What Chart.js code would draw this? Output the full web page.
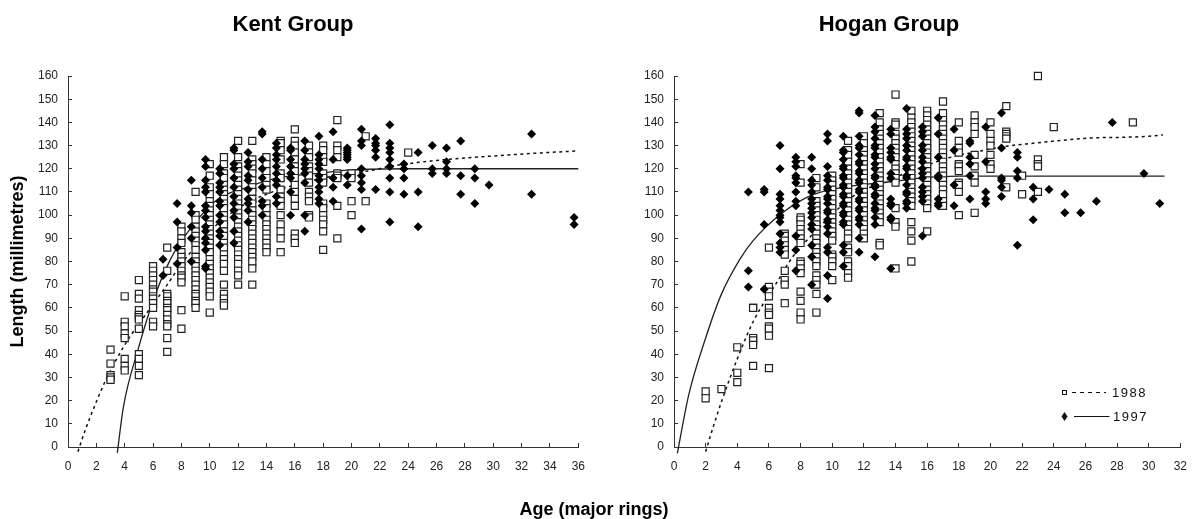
<!DOCTYPE html>
<html>
<head>
<meta charset="utf-8">
<title>Kent Group / Hogan Group</title>
<script src="https://cdn.jsdelivr.net/npm/chart.js@4/dist/chart.umd.min.js"></script>
<style>
  body { margin: 0; background: #fff; font-family: "Liberation Sans", Arial, sans-serif; color: #000; }
  #page { position: relative; width: 1197px; height: 519px; overflow: hidden; }
  canvas { position: absolute; top: 0; }
  #graficoKent { left: 0; }
  #graficoHogan { left: 600px; }
  .titulo { position: absolute; font-weight: bold; white-space: nowrap; transform: translateX(-50%); }
  #tituloKent { left: 293px; top: 11px; font-size: 22px; }
  #tituloHogan { left: 889px; top: 11px; font-size: 22px; }
  #tituloEdad { left: 594px; top: 499px; font-size: 18px; line-height: 21px; }
</style>
</head>
<body>
<div id="page">
  <canvas id="graficoKent" width="601" height="519"></canvas>
  <canvas id="graficoHogan" width="603" height="519"></canvas>
  <div class="titulo" id="tituloKent">Kent Group</div>
  <div class="titulo" id="tituloHogan">Hogan Group</div>
  <div class="titulo" id="tituloEdad">Age (major rings)</div>
</div>
<script>
// Kent Group, 1988 (squares) - one list of lengths per age
const kent1988Ages = [3, 4, 5, 6, 7, 8, 9, 10, 11, 12, 13, 14, 15, 16, 17, 18, 19, 20, 21, 24];
const kent1988Lengths = [
  [42, 36, 31, 30, 29],
  [65, 54, 52, 49, 47, 38, 35, 33],
  [72, 66, 64, 59, 57, 56, 55, 51, 40, 38, 35, 31],
  [78, 76, 74, 72, 70, 68, 67, 65, 64, 62, 60, 54, 52],
  [86, 76, 66, 65, 63, 62, 60, 59, 57, 55, 53, 52, 47, 41],
  [95, 93, 90, 88, 84, 82, 80, 78, 76, 74, 73, 71, 59, 51],
  [110, 100, 98, 95, 93, 91, 89, 87, 85, 82, 80, 78, 76, 74, 72, 70, 68, 66, 65, 63, 62, 60],
  [122, 117, 112, 109, 106, 104, 102, 100, 98, 96, 94, 92, 90, 88, 86, 84, 81, 79, 77, 75, 73, 71, 69, 67, 65, 58],
  [125, 122, 118, 116, 113, 111, 109, 107, 105, 103, 100, 98, 96, 93, 91, 88, 86, 83, 81, 79, 76, 70, 66, 64, 62, 61],
  [132, 125, 121, 119, 117, 115, 113, 111, 109, 107, 105, 103, 101, 99, 97, 95, 93, 91, 89, 87, 85, 83, 81, 79, 76, 74, 70],
  [132, 124, 122, 120, 118, 115, 112, 110, 107, 105, 102, 100, 98, 96, 94, 92, 90, 88, 86, 84, 82, 80, 77, 70],
  [125, 122, 119, 116, 113, 111, 105, 103, 100, 98, 96, 94, 92, 90, 88, 86, 84],
  [132, 131, 128, 124, 118, 116, 111, 108, 106, 104, 100, 96, 93, 90, 84],
  [137, 132, 130, 127, 124, 121, 119, 116, 113, 110, 107, 104, 92, 90, 88],
  [130, 127, 125, 121, 119, 117, 114, 110, 108, 106, 100, 99],
  [130, 128, 125, 123, 118, 116, 114, 105, 103, 100, 98, 96, 93, 85],
  [141, 130, 128, 125, 118, 117, 116, 104, 90],
  [118, 116, 106, 100],
  [134, 106],
  [127]
];

// Kent Group, 1997 (diamonds)
const kent1997Ages = [6.7, 7.7, 8.7, 9.7, 10.7, 11.7, 12.7, 13.7, 14.7, 15.7, 16.7, 17.7, 18.7, 19.7, 20.7, 21.7, 22.7, 23.7, 24.7, 25.7, 26.7, 27.7, 28.7, 29.7, 32.7, 35.7];
const kent1997Lengths = [
  [81, 74],
  [105, 97, 86, 79],
  [115, 104, 101, 95, 90, 80],
  [124, 121, 115, 112, 110, 104, 102, 99, 95, 93, 90, 88, 85, 78, 77],
  [120, 118, 114, 112, 110, 106, 104, 100, 97, 93, 91, 87],
  [129, 128, 122, 120, 116, 112, 108, 105, 102, 99, 93, 88],
  [127, 123, 121, 117, 115, 111, 107, 105, 102, 97],
  [136, 135, 124, 120, 116, 112, 106, 104, 100],
  [131, 129, 126, 124, 121, 118, 115, 113, 108, 105],
  [129, 128, 124, 121, 118, 116, 110, 100],
  [132, 128, 124, 122, 120, 118, 114, 100, 93],
  [134, 126, 124, 122, 120, 117, 115, 112, 110, 107, 105],
  [136, 124, 116, 112, 106],
  [129, 128, 127, 126, 125, 124, 117, 113],
  [137, 132, 130, 120, 117, 114, 111, 94],
  [133, 131, 130, 128, 125, 111],
  [139, 131, 129, 127, 124, 121, 116, 110, 97],
  [122, 120, 116, 109],
  [127, 110, 95],
  [130, 120, 118],
  [129, 123, 120, 118],
  [132, 117, 109],
  [120, 116, 105],
  [113],
  [135, 109],
  [99, 96]
];

// Kent Group, growth curves
const kentCurve1988X = [0.7, 1.2, 1.9, 2.6, 4, 5.7, 7, 8, 10, 12, 14, 16, 18, 20, 21.5, 22.7, 26.7, 30, 32.7, 36];
const kentCurve1988Y = [-2, 7, 18, 28, 44, 59, 70, 79, 93, 103, 109, 113, 116, 118, 119.4, 121, 124, 125.5, 126.6, 127.7];
const kentCurve1997X = [3.48, 3.9, 4.94, 6, 7.2, 8.37, 10.5, 12.6, 14.7, 17.6, 20, 24, 36];
const kentCurve1997Y = [-2.5, 17, 42, 63, 80.6, 92, 106.5, 112, 116, 118, 119.5, 120, 120];

// Hogan Group, 1988 (squares)
const hogan1988Ages = [2, 3, 4, 5, 6, 7, 8, 9, 10, 11, 12, 13, 14, 15, 16, 17, 18, 19, 20, 21, 22, 23, 24, 29];
const hogan1988Lengths = [
  [24, 21],
  [25],
  [43, 32, 28],
  [60, 60, 47, 46, 44, 35],
  [86, 69, 67, 65, 60, 58, 57, 52, 51, 48, 34],
  [92, 91, 89, 87, 85, 83, 76, 72, 70, 62],
  [122, 114, 99, 98, 96, 94, 92, 90, 88, 80, 79, 77, 75, 67, 63, 58, 55],
  [116, 112, 106, 104, 102, 100, 98, 96, 94, 92, 90, 88, 86, 84, 82, 80, 78, 74, 72, 70, 66, 58],
  [117, 115, 113, 111, 109, 107, 105, 103, 101, 99, 97, 95, 93, 91, 89, 83, 82, 80, 78, 72],
  [132, 128, 126, 123, 120, 118, 116, 114, 112, 110, 108, 106, 104, 102, 100, 98, 96, 94, 92, 90, 86, 84, 80, 78, 75, 73],
  [134, 131, 128, 126, 124, 122, 120, 118, 116, 114, 112, 110, 108, 106, 104, 102, 100, 98, 96, 94, 92, 90],
  [144, 140, 137, 135, 133, 131, 129, 127, 125, 123, 121, 119, 117, 115, 113, 111, 109, 107, 105, 103, 101, 99, 97, 88, 87],
  [152, 140, 139, 135, 133, 131, 129, 127, 125, 122, 120, 118, 116, 114, 103, 97, 95, 77],
  [145, 142, 140, 138, 136, 134, 132, 130, 128, 126, 124, 122, 120, 118, 116, 114, 112, 110, 108, 106, 104, 97, 93, 89, 80],
  [145, 143, 141, 139, 137, 135, 133, 131, 129, 127, 125, 123, 121, 119, 117, 115, 113, 111, 109, 107, 105, 103, 93],
  [149, 144, 141, 139, 137, 135, 133, 131, 129, 127, 125, 123, 121, 119, 117, 115, 113, 111, 109, 106, 104],
  [140, 132, 129, 127, 122, 121, 119, 114, 113, 110, 100],
  [143, 140, 138, 135, 126, 121, 117, 114, 101],
  [140, 135, 132, 130, 126, 122, 120],
  [147, 136, 135, 134, 133, 112],
  [117, 109],
  [160, 124, 122, 121, 110],
  [138],
  [140]
];

// Hogan Group, 1997 (diamonds)
const hogan1997Ages = [4.7, 5.7, 6.7, 7.7, 8.7, 9.7, 10.7, 11.7, 12.7, 13.7, 14.7, 15.7, 16.7, 17.7, 18.7, 19.7, 20.7, 21.7, 22.7, 23.7, 24.7, 25.7, 26.7, 27.7, 29.7, 30.7];
const hogan1997Lengths = [
  [110, 76, 69],
  [111, 110, 96, 68],
  [130, 120, 109, 107, 104, 102, 100, 99, 97, 92, 88, 86, 84],
  [125, 123, 121, 117, 116, 114, 110, 106, 104, 91, 85, 76],
  [125, 120, 115, 113, 110, 107, 105, 103, 101, 99, 96, 94, 87, 82, 70],
  [135, 132, 121, 117, 115, 112, 111, 108, 107, 105, 102, 101, 98, 97, 95, 92, 86, 84, 74, 64],
  [134, 128, 127, 124, 121, 120, 117, 116, 113, 112, 109, 108, 105, 104, 101, 100, 97, 96, 87, 84, 78],
  [145, 144, 134, 130, 129, 126, 123, 122, 119, 118, 115, 114, 111, 110, 107, 106, 103, 102, 99, 98, 96, 90, 84],
  [143, 138, 136, 133, 130, 129, 126, 125, 122, 120, 117, 116, 113, 112, 109, 108, 105, 103, 102, 99, 96, 82],
  [137, 135, 129, 127, 125, 124, 118, 116, 107, 105, 104, 99, 98, 77],
  [146, 137, 135, 133, 130, 128, 125, 124, 121, 120, 117, 116, 113, 110, 109, 106, 105, 103],
  [138, 136, 134, 130, 128, 125, 123, 120, 118, 116, 112, 110, 108, 106, 91],
  [142, 135, 125, 117, 116, 107, 105, 104],
  [137, 128, 113, 104],
  [132, 131, 125, 122, 117, 107],
  [138, 123, 110, 107, 105],
  [144, 129, 116, 115, 112, 108],
  [127, 125, 119, 116, 87],
  [112, 107, 98],
  [111],
  [109, 101],
  [101],
  [106],
  [140],
  [118],
  [105]
];

// Hogan Group, growth curves
const hoganCurve1988X = [2, 2.4, 3, 4, 5, 6.5, 7.5, 8.6, 11.3, 12.4, 15, 17.5, 19.4, 21, 22.7, 24.6, 26.5, 28.6, 30, 30.9];
const hoganCurve1988Y = [-2, 7, 19.5, 38, 54, 71, 82, 90.6, 108, 112, 119, 125, 127.7, 129.7, 131, 132.3, 133.3, 133.6, 134, 134.6];
const hoganCurve1997X = [0.21, 0.95, 2, 2.97, 4.13, 5, 6.8, 8.7, 10.7, 13.7, 15.6, 18, 31];
const hoganCurve1997Y = [-2.7, 23, 47, 65.5, 80.6, 89, 100.7, 108.6, 112, 114.4, 116, 116.8, 116.8];

// Labels
const legendLabels = ['1988', '1997'];

// Convierte las listas por edad en puntos para el scatter
function puntosPorEdad(ages, lengths) {
    return ages.flatMap(function (age, i) {
        return lengths[i].map(function (len) { return { x: age, y: len }; });
    });
}

function puntosCurva(xs, ys) {
    return xs.map(function (x, i) { return { x: x, y: ys[i] }; });
}

// Dibuja la leyenda (marcador + linea + texto), solo en el grafico de Hogan
const leyendaHogan = {
    id: 'leyendaHogan',
    afterDraw: function (chart) {
        const ctx = chart.ctx;
        ctx.save();
        ctx.fillStyle = '#111';
        ctx.strokeStyle = '#111';
        ctx.font = '13px "Liberation Sans"';
        ctx.letterSpacing = '1.5px';
        ctx.textBaseline = 'middle';
        ctx.fillText(legendLabels[0], 512, 393);
        ctx.fillText(legendLabels[1], 513, 417);
        ctx.letterSpacing = '0px';
        // 1988
        ctx.lineWidth = 1;
        ctx.strokeRect(462.5, 390.5, 4, 4);
        ctx.setLineDash([4, 4]);
        ctx.beginPath();
        ctx.moveTo(472, 392.5);
        ctx.lineTo(506, 392.5);
        ctx.stroke();
        // 1997
        ctx.setLineDash([]);
        ctx.beginPath();
        ctx.moveTo(474, 416.5);
        ctx.lineTo(509.5, 416.5);
        ctx.stroke();
        ctx.beginPath();
        ctx.moveTo(464.5, 412);
        ctx.lineTo(467.5, 416.5);
        ctx.lineTo(464.5, 421);
        ctx.lineTo(461.5, 416.5);
        ctx.closePath();
        ctx.fill();
        ctx.restore();
    }
};

function crearGrafico(id, grupo) {
    const ctx = document.getElementById(id).getContext('2d');
    const yScale = {
        min: 0,
        max: 160,
        border: { color: '#333', width: 1 },
        grid: { drawOnChartArea: false, color: '#333', tickLength: -4 },
        ticks: { stepSize: 10, color: '#222', font: { family: 'Liberation Sans', size: 12 }, padding: 14 },
        afterFit: function (scale) { scale.width = grupo.leftAxis; }
    };
    if (grupo.yTitle) {
        yScale.title = {
            display: true,
            text: grupo.yTitle,
            color: '#000',
            font: { family: 'Liberation Sans', size: 18, weight: 'bold' },
            padding: { top: 0, bottom: 0 }
        };
    }
    return new Chart(ctx, {
        type: 'scatter',
        data: {
            datasets: [
                { label: '1988 curve', type: 'line', data: grupo.curve88, borderColor: '#111', borderWidth: 1.5, borderDash: [3, 3.5], pointRadius: 0, cubicInterpolationMode: 'monotone', clip: false, order: 3 },
                { label: '1997 curve', type: 'line', data: grupo.curve97, borderColor: '#222', borderWidth: 1.3, pointRadius: 0, cubicInterpolationMode: 'monotone', clip: false, order: 3 },
                { label: '1988', data: grupo.pts88, pointStyle: 'rect', pointRadius: 5, backgroundColor: '#fff', borderColor: '#222', borderWidth: 1.2, clip: false, order: 2 },
                { label: '1997', data: grupo.pts97, pointStyle: 'rectRot', pointRadius: 4.5, backgroundColor: '#000', borderColor: '#000', borderWidth: 0, clip: false, order: 1 }
            ]
        },
        options: {
            responsive: false,
            animation: false,
            devicePixelRatio: 1,
            layout: { padding: { left: grupo.padLeft, right: 0, top: 76, bottom: 0 } },
            plugins: { legend: { display: false }, title: { display: false }, tooltip: { enabled: false } },
            scales: {
                x: {
                    type: 'linear',
                    min: 0,
                    max: grupo.xMax,
                    border: { color: '#333', width: 1 },
                    grid: { drawOnChartArea: false, color: '#333', tickLength: -4 },
                    ticks: { stepSize: 2, color: '#222', font: { family: 'Liberation Sans', size: 12 }, maxRotation: 0, autoSkip: false, padding: 16 },
                    afterFit: function (scale) { scale.height = 72; }
                },
                y: yScale
            }
        },
        plugins: grupo.plugins
    });
}

crearGrafico('graficoKent', {
    leftAxis: 61, padLeft: 7, xMax: 36, yTitle: 'Length (millimetres)',
    curve88: puntosCurva(kentCurve1988X, kentCurve1988Y),
    curve97: puntosCurva(kentCurve1997X, kentCurve1997Y),
    pts88: puntosPorEdad(kent1988Ages, kent1988Lengths),
    pts97: puntosPorEdad(kent1997Ages, kent1997Lengths),
    plugins: []
});

crearGrafico('graficoHogan', {
    leftAxis: 74, padLeft: 0, xMax: 32, yTitle: null,
    curve88: puntosCurva(hoganCurve1988X, hoganCurve1988Y),
    curve97: puntosCurva(hoganCurve1997X, hoganCurve1997Y),
    pts88: puntosPorEdad(hogan1988Ages, hogan1988Lengths),
    pts97: puntosPorEdad(hogan1997Ages, hogan1997Lengths),
    plugins: [leyendaHogan]
});
</script>
</body>
</html>
